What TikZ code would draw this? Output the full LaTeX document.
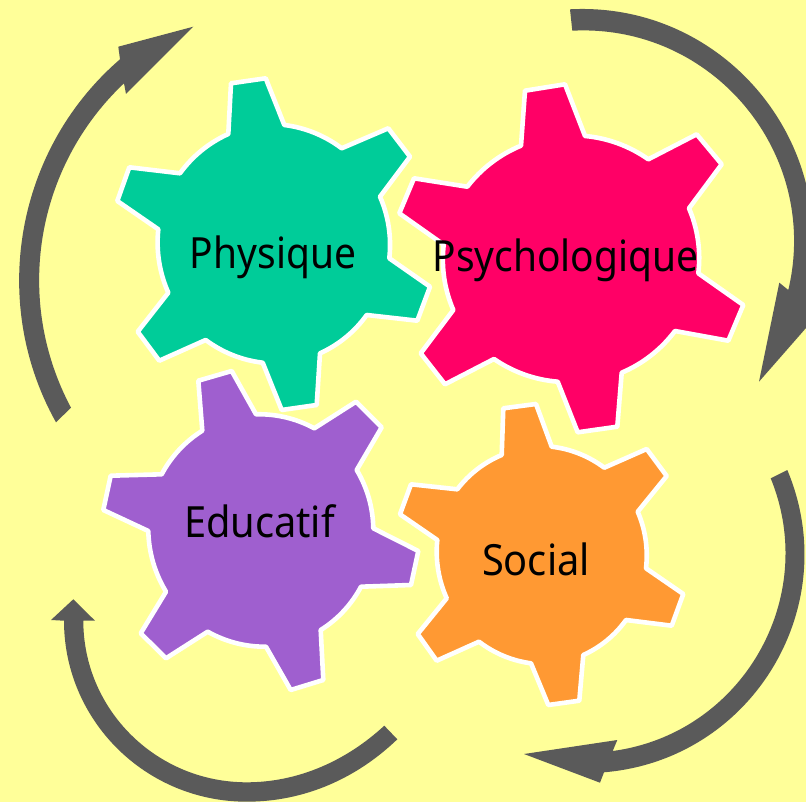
\documentclass[tikz,border=0pt]{standalone}
\usepackage{fontspec}
\setmainfont{Noto Sans}
\newfontfamily\gearfont[FakeStretch=0.905]{Noto Sans}
\newfontfamily\gearfontwide[FakeStretch=0.925]{Noto Sans}
\definecolor{bgyellow}{HTML}{FFFF99}
\definecolor{gearGreen}{HTML}{00CC99}
\definecolor{gearPink}{HTML}{FF0066}
\definecolor{gearPurple}{HTML}{9F5FCF}
\definecolor{gearOrange}{HTML}{FF9933}
\definecolor{arrowGray}{HTML}{5A5A5A}
\tikzset{
  gearshape/.style={draw=white,line width=4.6pt,line join=round},
  gb/.style={bend left=15,looseness=.87},
  arrowshape/.style={fill=arrowGray},
  gearlabel/.style={anchor=base,inner sep=0pt,text=black,font=\gearfont\fontsize{43}{43}\selectfont},
  gearlabelwide/.style={anchor=base,inner sep=0pt,text=black,font=\gearfontwide\fontsize{43}{43}\selectfont}
}
\begin{document}
\begin{tikzpicture}[x=1pt,y=-1pt]
\useasboundingbox (0,0) rectangle (806,802);
\clip (0,0) rectangle (806,802);
\fill[bgyellow] (0,0) rectangle (806,802);

% arrows: each one a single outline, shaft and head together
\fill[arrowshape] (56,422.3) to[bend left=39.25,looseness=.958] (120,59.3)
  -- (118.3,46.7) -- (193.3,26.7) -- (126,94) -- (124,83.3)
  to[bend right=37.35,looseness=.95] (71,407.7) -- cycle;

\fill[arrowshape] (570,9.3) to[bend left=53.5,looseness=1.068] (806,296)
  -- (818.7,313.5) -- (759,381.7) -- (779.3,282.7) -- (788.3,290)
  to[bend right=53.1,looseness=1.066] (572.3,30.7) -- cycle;

\fill[arrowshape] (787.3,470) to[bend left=54,looseness=1.0725] (604,772.3)
  -- (600,782.7) -- (524,754) -- (617.3,740) -- (612.7,751)
  to[bend right=52.3,looseness=1.056] (770.7,478.3) -- cycle;

\fill[arrowshape] (397.3,739.3) .. controls (357,778) and (305,801.7) .. (246.7,801.7)
  .. controls (145.8,801.7) and (64,720.7) .. (64,620.7)
  -- (51,620) -- (73.3,599.3) -- (95,620.7) -- (83.3,620.7)
  .. controls (83.3,709.9) and (156.5,782.3) .. (246.7,782.3)
  .. controls (298,782.3) and (346,761) .. (384.3,725.7) -- cycle;

% gears
\filldraw[gearshape,fill=gearGreen]
 (231,83.3) -- (265.7,78.3) -- (284.3,125) to[gb] (341.7,148.3) -- (388.3,128.3) -- (410,156.7) -- (380,196.7)
 to[gb] (389.3,258.3) -- (430,286.7) -- (417.3,320.7) -- (366.7,315)
 to[gb] (320,353.3) -- (316.7,405) -- (281.7,410) -- (262.7,362.7)
 to[gb] (205.7,340) -- (159.3,360.7) -- (137.7,331.7) -- (168.3,292.7)
 to[gb] (158.3,229.3) -- (117.3,201) -- (129.3,167.3) -- (180,173.3)
 to[gb] (228.3,134) -- cycle;

\filldraw[gearshape,fill=gearPink]
 (525,90.7) -- (565,84.3) -- (585,136) to[gb] (648.3,159.3) -- (696.7,134.3) -- (721.7,164.3) -- (689,208.3)
 to[gb] (698.3,273.3) -- (743.3,305) -- (728.3,340.7) -- (675,331)
 to[gb] (621.7,372.7) -- (617.3,426.7) -- (577.7,432.3) -- (557.7,381.7)
 to[gb] (494,359) -- (445,384.3) -- (420.7,353.3) -- (453.3,310)
 to[gb] (443.7,244.7) -- (399.3,213.3) -- (414,178.3) -- (467.3,186.7)
 to[gb] (521,145.7) -- cycle;

\filldraw[gearshape,fill=gearPurple]
 (198.3,380.7) -- (231.7,371) -- (256,414.3) to[gb] (314.3,428.3) -- (356,401.7) -- (381.7,427.3) -- (356.7,470)
 to[gb] (373.3,528.3) -- (418.3,551) -- (411,585) -- (361,586.7)
 to[gb] (320.7,630) -- (323.3,680) -- (290.7,690) -- (266,646.7)
 to[gb] (207.7,631.7) -- (166,658.3) -- (140.7,633.3) -- (166,591.7)
 to[gb] (148.3,531) -- (103.3,510) -- (110.7,475.7) -- (161.7,474.3)
 to[gb] (202.3,430.7) -- cycle;

\filldraw[gearshape,fill=gearOrange]
 (503.3,408.3) -- (536,404) -- (551.7,446.7) to[gb] (604.3,467.7) -- (646.7,449) -- (666.7,476) -- (637.7,511.7)
 to[gb] (646,568.3) -- (683.3,594) -- (671.7,625.7) -- (626,620)
 to[gb] (583.3,655) -- (579.3,700.7) -- (548.3,705) -- (531,663.3)
 to[gb] (479,641.7) -- (436.7,660.7) -- (417.7,634) -- (446.7,598.3)
 to[gb] (437.3,540) -- (400,514.3) -- (411,484.3) -- (457.3,489.3)
 to[gb] (501.7,455) -- cycle;

% labels
\node[gearlabel] (physique) at (273,269) {Physique};
\node[gearlabel] (psycho) at (565.5,271.7) {Psychologique};
\node[gearlabelwide] (educatif) at (259.5,537.3) {Educatif};
\node[gearlabelwide] (social) at (536,575.7) {Social};
\end{tikzpicture}
\end{document}
